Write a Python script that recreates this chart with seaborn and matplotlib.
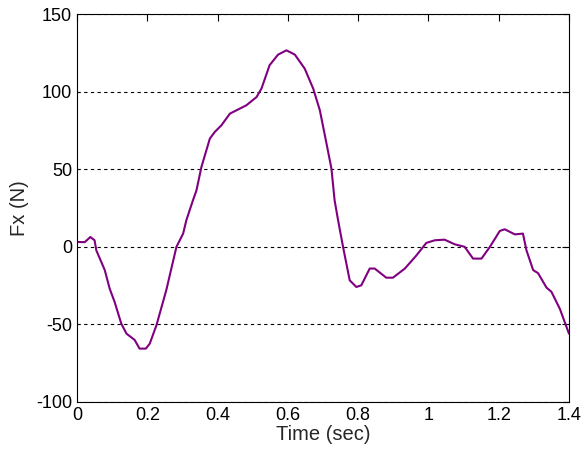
import matplotlib
matplotlib.use("Agg")
import matplotlib.pyplot as plt
import seaborn as sns
import pandas as pd

time_sec = [0.000, 0.022, 0.038, 0.050, 0.055, 0.079, 0.093, 0.107, 0.126, 0.141,
            0.164, 0.178, 0.196, 0.207, 0.226, 0.254, 0.283, 0.302, 0.311, 0.330,
            0.340, 0.354, 0.378, 0.392, 0.411, 0.435, 0.463, 0.482, 0.511, 0.525,
            0.548, 0.572, 0.596, 0.620, 0.648, 0.672, 0.691, 0.710, 0.724, 0.733,
            0.743, 0.757, 0.776, 0.795, 0.809, 0.833, 0.847, 0.880, 0.899, 0.933,
            0.966, 0.994, 1.018, 1.046, 1.075, 1.103, 1.127, 1.151, 1.175, 1.203,
            1.217, 1.246, 1.269, 1.279, 1.298, 1.312, 1.336, 1.350, 1.374, 1.400]
fx_newton = [3.1, 3.0, 6.3, 4.2, -2.3, -15.0, -27.0, -35.5, -49.5, -56.0,
             -60.0, -65.6, -65.6, -62.4, -50.6, -28.0, 0.0, 8.5, 17.0, 30.0,
             36.4, 51.4, 69.7, 74.0, 78.3, 85.8, 89.0, 91.2, 96.5, 102.0,
             117.0, 123.8, 126.6, 123.8, 114.8, 102.0, 88.0, 66.5, 50.4, 30.0,
             17.0, 0.0, -21.6, -25.9, -24.8, -14.0, -14.0, -19.9, -19.9, -14.0,
             -5.5, 2.5, 4.2, 4.6, 1.6, 0.0, -7.6, -7.6, 0.0, 10.2,
             11.3, 8.0, 8.5, -2.3, -15.0, -17.0, -26.3, -29.0, -40.0, -56.0]
x_ticks = [0, 0.2, 0.4, 0.6, 0.8, 1, 1.2, 1.4]
x_tick_labels = ["0", "0.2", "0.4", "0.6", "0.8", "1", "1.2", "1.4"]
y_ticks = [-100, -50, 0, 50, 100, 150]
y_tick_labels = ["-100", "-50", "0", "50", "100", "150"]

sns.set_style("white")
plt.rcParams["font.family"] = ["Liberation Sans", "DejaVu Sans"]
plt.rcParams["axes.unicode_minus"] = False

df = pd.DataFrame({"Time (sec)": time_sec, "Fx (N)": fx_newton})

fig = plt.figure(figsize=(5.84, 4.57), dpi=100)
ax = fig.add_axes([77 / 584, 1 - 402 / 457, (569 - 77) / 584, (402 - 14) / 457])
sns.lineplot(data=df, x="Time (sec)", y="Fx (N)", ax=ax, color="#800080",
             linewidth=1.5, sort=False)

ax.set_xlim(0, 1.4)
ax.set_ylim(-100, 150)
ax.set_xticks(x_ticks)
ax.set_xticklabels(x_tick_labels)
ax.set_yticks(y_ticks)
ax.set_yticklabels(y_tick_labels)
ax.yaxis.grid(True, linestyle=(0, (3, 3)), color="black", linewidth=0.8)
ax.xaxis.grid(False)
ax.tick_params(direction="in", length=5, width=0.8, top=True, right=True,
               labelsize=13, colors="black", pad=3.5)
for s in ax.spines.values():
    s.set_color("black")
    s.set_linewidth(0.8)
ax.set_xlabel("Time (sec)", fontsize=14.5, labelpad=1)
ax.set_ylabel("Fx (N)", fontsize=14.5, labelpad=5)

fig.savefig("out.png", dpi=100)
